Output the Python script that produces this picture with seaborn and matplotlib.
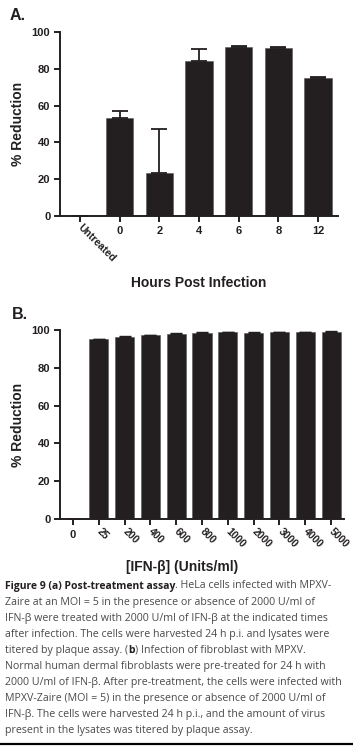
import matplotlib
matplotlib.use("Agg")
import matplotlib.pyplot as plt
import seaborn as sns
import numpy as np
import pandas as pd

# ---------------- data ----------------
hours_labels = ["Untreated", "0", "2", "4", "6", "8", "12"]
hours_values = [0.0, 53.0, 23.5, 84.0, 91.8, 91.2, 74.8]
hours_err = [0.0, 4.0, 24.0, 6.5, 0.8, 0.4, 0.5]

dose_labels = ["0", "25", "200", "400", "600", "800", "1000", "2000", "3000", "4000", "5000"]
dose_values = [0.0, 95.2, 96.5, 97.2, 98.1, 98.5, 98.8, 98.5, 98.8, 99.0, 99.2]
dose_err = [0.0, 0.2, 0.2, 0.2, 0.2, 0.2, 0.3, 0.2, 0.3, 0.2, 0.3]

yticks = [0, 20, 40, 60, 80, 100]

caption_lines = [
    [("Figure 9 (a) Post-treatment assay", "bold"), (". HeLa cells infected with MPXV-", "normal")],
    [("Zaire at an MOI = 5 in the presence or absence of 2000 U/ml of", "normal")],
    [("IFN-β were treated with 2000 U/ml of IFN-β at the indicated times", "normal")],
    [("after infection. The cells were harvested 24 h p.i. and lysates were", "normal")],
    [("titered by plaque assay. (", "normal"), ("b", "bold"), (") Infection of fibroblast with MPXV.", "normal")],
    [("Normal human dermal fibroblasts were pre-treated for 24 h with", "normal")],
    [("2000 U/ml of IFN-β. After pre-treatment, the cells were infected with", "normal")],
    [("MPXV-Zaire (MOI = 5) in the presence or absence of 2000 U/ml of", "normal")],
    [("IFN-β. The cells were harvested 24 h p.i., and the amount of virus", "normal")],
    [("present in the lysates was titered by plaque assay.", "normal")],
]

# ---------------- style ----------------
sns.set_theme(style="ticks")
plt.rcParams["font.family"] = ["Liberation Sans", "DejaVu Sans"]
plt.rcParams["font.weight"] = "bold"

W, H = 353, 746
fig = plt.figure(figsize=(W / 100, H / 100), dpi=100)

BAR = "#231f20"
INK = "#231f20"


def style_axes(ax, xlabel, xlabel_x, xlabel_y):
    ax.set_ylim(0, 100)
    ax.set_yticks(yticks)
    sns.despine(ax=ax)
    for s in ["left", "bottom"]:
        ax.spines[s].set_linewidth(1.4)
        ax.spines[s].set_color(INK)
    ax.tick_params(axis="both", direction="out", length=4, width=1.4, color=INK,
                   labelsize=8, labelcolor=INK)
    ax.tick_params(axis="y", pad=3)
    ax.tick_params(axis="x", pad=3)
    ax.set_ylabel("% Reduction", fontsize=10, fontweight="bold", color=INK)
    ax.yaxis.set_label_coords(-0.125, 0.5)
    ax.set_xlabel(xlabel, fontsize=10, fontweight="bold", color=INK)
    ax.xaxis.label.set_va("center")
    ax.xaxis.set_label_coords(xlabel_x, xlabel_y)
    for t in ax.get_yticklabels():
        t.set_fontweight("heavy")


# ---------------- panel A ----------------
axA = fig.add_axes([60 / W, 1 - 216 / H, 278 / W, 184 / H])
dfA = pd.DataFrame({"h": hours_labels, "v": hours_values})
sns.barplot(data=dfA, x="h", y="v", order=hours_labels, color=BAR, width=0.69,
            saturation=1, errorbar=None, ax=axA, edgecolor="#555555", linewidth=0.4)
xA = np.arange(len(hours_labels))
axA.errorbar(xA, hours_values, yerr=[np.zeros(len(hours_err)), hours_err], fmt="none",
             ecolor=INK, elinewidth=1.3, capsize=6, capthick=1.3, zorder=1)
axA.set_xlim(-0.5, len(hours_labels) - 0.5)
style_axes(axA, "Hours Post Infection", 0.5, -(283 - 216) / 184)
for i, t in enumerate(axA.get_xticklabels()):
    t.set_fontweight("heavy")
    if i == 0:
        t.set_rotation(-45)
        t.set_rotation_mode("anchor")
        t.set_ha("left")
        t.set_va("center")
        t.set_fontsize(7.5)

fig.text(10 / W, 1 - 16 / H, "A.", fontsize=11.5, fontweight="bold", color=INK,
         ha="left", va="center")

# ---------------- panel B ----------------
axB = fig.add_axes([60 / W, 1 - 519 / H, 284 / W, 189 / H])
dfB = pd.DataFrame({"d": dose_labels, "v": dose_values})
sns.barplot(data=dfB, x="d", y="v", order=dose_labels, color=BAR, width=0.74,
            saturation=1, errorbar=None, ax=axB, edgecolor="#555555", linewidth=0.4)
xB = np.arange(len(dose_labels))
axB.errorbar(xB, dose_values, yerr=[np.zeros(len(dose_err)), dose_err], fmt="none",
             ecolor=INK, elinewidth=1.0, capsize=4, capthick=1.0, zorder=1)
axB.set_xlim(-0.5, len(dose_labels) - 0.5)
style_axes(axB, "[IFN-β] (Units/ml)", (182 - 60) / 284, -(567 - 519) / 189)
for i, t in enumerate(axB.get_xticklabels()):
    t.set_fontweight("heavy")
    if i > 0:
        t.set_rotation(-45)
        t.set_rotation_mode("anchor")
        t.set_ha("left")
        t.set_va("center")
        t.set_fontsize(7.5)
axB.tick_params(axis="x", pad=4)

fig.text(12 / W, 1 - 315 / H, "B.", fontsize=11.5, fontweight="bold", color=INK,
         ha="left", va="center")

# ---------------- caption ----------------
renderer = fig.canvas.get_renderer()
cap_font = ["Open Sans", "DejaVu Sans"]
sizes = {"normal": 7.65, "bold": 7.5}
y0 = 586
dy = 16.1
for li, segs in enumerate(caption_lines):
    x = 5
    y = y0 + li * dy
    for txt, wt in segs:
        col = INK if wt == "bold" else "#4a4a4a"
        t = fig.text(x / W, 1 - y / H, txt, fontsize=sizes[wt], fontweight=wt,
                     family=cap_font, color=col, ha="left", va="center")
        bb = t.get_window_extent(renderer)
        x += bb.width

fig.add_artist(plt.Line2D([0, 1], [1 - 744 / H, 1 - 744 / H], color="black", lw=1.6))

fig.savefig("out.png", dpi=100)
